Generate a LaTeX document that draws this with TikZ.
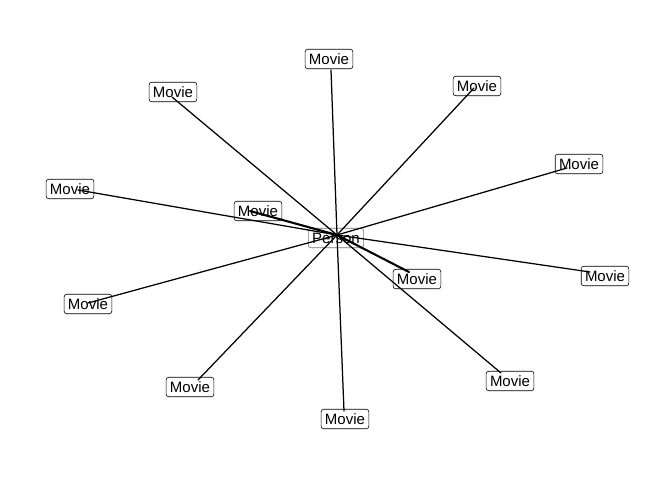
\documentclass[tikz,border=0pt]{standalone}
\usepackage{fontspec}
\setmainfont{Liberation Sans}
\begin{document}
\begin{tikzpicture}[x=1pt,y=-1pt,
  lbl/.style={draw=black,line width=0.6pt,rounded corners=2.5pt,fill=white,inner xsep=3.8pt,inner ysep=0pt,minimum height=19.5pt,font=\fontsize{15}{15}\selectfont},
  plbl/.style={lbl,draw=black!55},
  edge/.style={line width=1.25pt,line cap=round},
  thick edge/.style={line width=2.1pt,line cap=round}]
\useasboundingbox (0,0) rectangle (672,480);
% labels
\node[plbl] (p) at (336,238) {Person};
\node[lbl] (m1) at (329,59) {Movie};
\node[lbl] (m2) at (173,92) {Movie};
\node[lbl] (m3) at (477,86) {Movie};
\node[lbl] (m4) at (579,164) {Movie};
\node[lbl] (m5) at (70,189) {Movie};
\node[lbl] (m6) at (258,211) {Movie};
\node[lbl] (m7) at (417,279) {Movie};
\node[lbl] (m8) at (605,276) {Movie};
\node[lbl] (m9) at (88,304) {Movie};
\node[lbl] (m10) at (190,387) {Movie};
\node[lbl] (m11) at (345,419) {Movie};
\node[lbl] (m12) at (510,381) {Movie};
% edge end points
\coordinate (c) at (337,235);
\coordinate (e1) at (331,70);
\coordinate (e2) at (172,97);
\coordinate (e3) at (474,88);
\coordinate (e4) at (567,168);
\coordinate (e5) at (78,190);
\coordinate (e6) at (250,211);
\coordinate (e7) at (409,272);
\coordinate (e8) at (590,272);
\coordinate (e9) at (88,303);
\coordinate (e10) at (198,380);
\coordinate (e11) at (344,411);
\coordinate (e12) at (501,373);
% edges
\foreach \i in {1,2,3,4,5,8,9,10,11,12} \draw[edge] (c) -- (e\i);
\draw[thick edge] (c) -- (e6);
\draw[thick edge] (c) -- (e7);
\end{tikzpicture}
\end{document}
